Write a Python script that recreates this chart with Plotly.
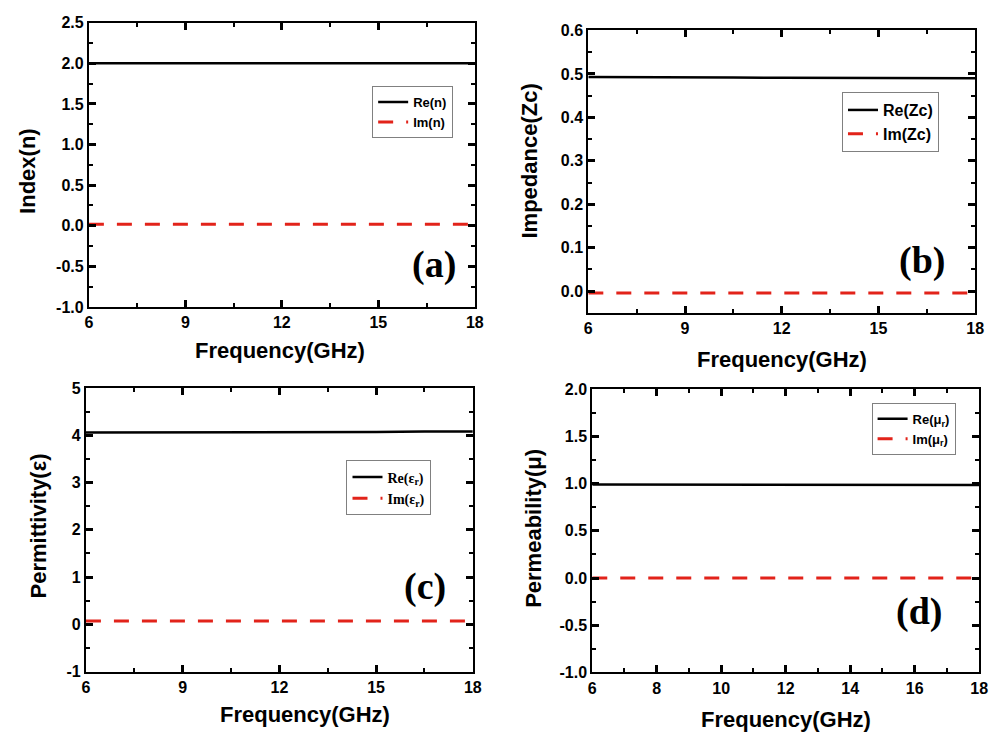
import plotly.graph_objects as go

W, H = 1001, 745

# ---- data ----
freq = [6, 7.5, 9, 10.5, 12, 13.5, 15, 16.5, 18]

re_n = [2.0, 2.0, 2.0, 2.0, 2.0, 2.0, 2.0, 2.0, 2.0]
im_n = [0.02, 0.02, 0.02, 0.02, 0.02, 0.02, 0.02, 0.02, 0.02]

re_zc = [0.493, 0.493, 0.492, 0.492, 0.491, 0.491, 0.491, 0.490, 0.490]
im_zc = [-0.004, -0.004, -0.004, -0.004, -0.004, -0.004, -0.004, -0.004, -0.004]

re_eps = [4.06, 4.06, 4.06, 4.07, 4.07, 4.07, 4.07, 4.08, 4.08]
im_eps = [0.07, 0.07, 0.07, 0.07, 0.07, 0.07, 0.07, 0.07, 0.07]

re_mu = [0.99, 0.99, 0.99, 0.99, 0.99, 0.99, 0.99, 0.985, 0.985]
im_mu = [0.0, 0.0, 0.0, 0.0, 0.0, 0.0, 0.0, 0.0, 0.0]

# tick values and labels
x_ticks_3 = [6, 9, 12, 15, 18]
x_ticks_2 = [6, 8, 10, 12, 14, 16, 18]
y_ticks_a = [-1.0, -0.5, 0.0, 0.5, 1.0, 1.5, 2.0, 2.5]
y_labels_a = ["-1.0", "-0.5", "0.0", "0.5", "1.0", "1.5", "2.0", "2.5"]
y_ticks_b = [0.0, 0.1, 0.2, 0.3, 0.4, 0.5, 0.6]
y_labels_b = ["0.0", "0.1", "0.2", "0.3", "0.4", "0.5", "0.6"]
y_ticks_c = [-1, 0, 1, 2, 3, 4, 5]
y_labels_c = ["-1", "0", "1", "2", "3", "4", "5"]
y_ticks_d = [-1.0, -0.5, 0.0, 0.5, 1.0, 1.5, 2.0]
y_labels_d = ["-1.0", "-0.5", "0.0", "0.5", "1.0", "1.5", "2.0"]

y_titles = ["Index(n)", "Impedance(Zc)", "Permittivity(ε)", "Permeability(μ)"]
x_title = "Frequency(GHz)"
panel_labels = ["(a)", "(b)", "(c)", "(d)"]
legend_names = [
    ("Re(n)", "Im(n)"),
    ("Re(Zc)", "Im(Zc)"),
    ("Re(ε<sub>r</sub>)", "Im(ε<sub>r</sub>)"),
    ("Re(μ<sub>r</sub>)", "Im(μ<sub>r</sub>)"),
]
series = [(re_n, im_n), (re_zc, im_zc), (re_eps, im_eps), (re_mu, im_mu)]
xticks = [x_ticks_3, x_ticks_3, x_ticks_3, x_ticks_2]
yticks = [(y_ticks_a, y_labels_a), (y_ticks_b, y_labels_b),
          (y_ticks_c, y_labels_c), (y_ticks_d, y_labels_d)]

# ---- layout geometry (pixels) ----
boxes = [(86, 477, 15, 306), (592, 984, 23, 312), (83, 475, 389, 679), (596, 988, 390, 680)]
yranges = [[-1, 2.5], [-0.05, 0.6], [-1, 5], [-1, 2]]
yminor = [0.25, 0.05, 0.5, 0.25]
xminor = [1.5, 1.5, 1.5, 1]

ytitle_pos = [(23, 167), (532, 157), (35, 530), (537, 533)]
xtitle_pos = [(280, 350), (788, 360), (305, 723), (792, 728)]
label_pos = [(436, 262), (930, 258), (427, 592), (927, 618)]
legend_pos = [(373, 80), (849, 86), (347, 463), (879, 404)]
legend_fonts = [
    dict(family="Liberation Sans, Arial", size=13, color="black", weight="bold"),
    dict(family="Liberation Sans, Arial", size=16, color="black", weight="bold"),
    dict(family="Liberation Serif, Times New Roman", size=14, color="black", weight="bold"),
    dict(family="Liberation Sans, Arial", size=13, color="black", weight="bold"),
]

RED = "#e2231a"
SANS = "Liberation Sans, Arial"

fig = go.Figure()
layout = dict(
    width=W, height=H, margin=dict(l=0, r=0, t=0, b=0),
    paper_bgcolor="white", plot_bgcolor="white",
    annotations=[],
)

def px_x(x):
    return x / W

def px_y(y):
    return 1 - y / H

for i in range(4):
    sfx = "" if i == 0 else str(i + 1)
    xa, ya = "x" + sfx, "y" + sfx
    leg = "legend" + sfx
    re_v, im_v = series[i]
    fig.add_trace(go.Scatter(x=freq, y=re_v, mode="lines", name=legend_names[i][0],
                             line=dict(color="black", width=2.5), xaxis=xa, yaxis=ya, legend=leg))
    fig.add_trace(go.Scatter(x=freq, y=im_v, mode="lines", name=legend_names[i][1],
                             line=dict(color=RED, width=3, dash="15px,13px"),
                             xaxis=xa, yaxis=ya, legend=leg))
    l, r, t, b = boxes[i]
    tv, tt = yticks[i]
    common = dict(showline=True, linewidth=2, linecolor="black", mirror="allticks",
                  ticks="inside", ticklen=7, tickwidth=2.5, tickcolor="black",
                  showgrid=False, zeroline=False,
                  tickfont=dict(family=SANS, size=16, color="black", weight="bold"))
    layout["xaxis" + sfx] = dict(
        domain=[px_x(l), px_x(r)], anchor=ya, range=[6, 18],
        tickmode="array", tickvals=xticks[i], ticktext=[str(v) for v in xticks[i]],
        minor=dict(dtick=xminor[i], tick0=6, ticks="inside", ticklen=4, tickwidth=2,
                   tickcolor="black", showgrid=False),
        **common)
    layout["yaxis" + sfx] = dict(
        domain=[px_y(b), px_y(t)], anchor=xa, range=yranges[i],
        tickmode="array", tickvals=tv, ticktext=tt,
        minor=dict(dtick=yminor[i], tick0=0, ticks="inside", ticklen=4, tickwidth=2,
                   tickcolor="black", showgrid=False),
        **common)

    lx, ly = legend_pos[i]
    layout[leg] = dict(x=px_x(lx), y=px_y(ly), xanchor="left", yanchor="top",
                       bgcolor="white", bordercolor="#808080", borderwidth=1,
                       font=legend_fonts[i], tracegroupgap=0, itemwidth=30)
    tx, ty = xtitle_pos[i]
    layout["annotations"].append(dict(
        text=x_title, x=px_x(tx), y=px_y(ty), xref="paper", yref="paper",
        xanchor="center", yanchor="middle", showarrow=False,
        font=dict(family=SANS, size=22, color="black", weight="bold")))
    yx, yy = ytitle_pos[i]
    layout["annotations"].append(dict(
        text=y_titles[i], x=px_x(yx), y=px_y(yy), xref="paper", yref="paper",
        xanchor="center", yanchor="middle", showarrow=False, textangle=-90,
        font=dict(family=SANS, size=22, color="black", weight="bold")))
    px_, py_ = label_pos[i]
    layout["annotations"].append(dict(
        text=panel_labels[i], x=px_x(px_), y=px_y(py_), xref="paper", yref="paper",
        xanchor="center", yanchor="middle", showarrow=False,
        font=dict(family="Liberation Serif, Times New Roman", size=38, color="black",
                  weight="bold")))

fig.update_layout(**layout)
fig.write_html("out.html")
